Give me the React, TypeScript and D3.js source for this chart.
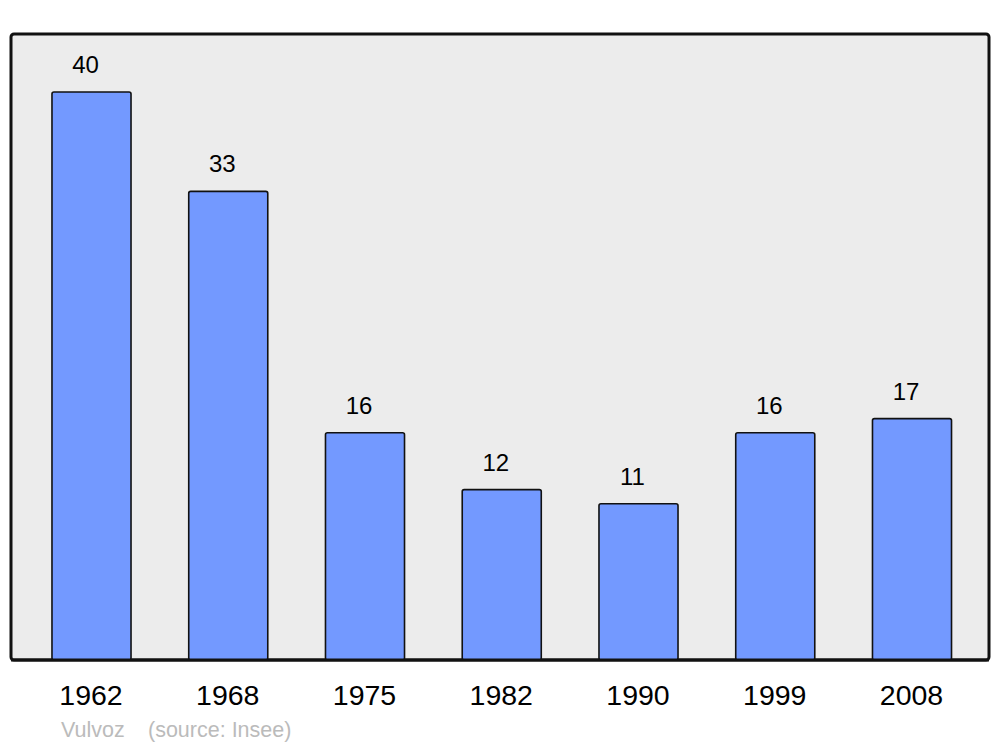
import React from "react";
import * as d3 from "d3";

const years = ["1962", "1968", "1975", "1982", "1990", "1999", "2008"];
const populations = [40, 33, 16, 12, 11, 16, 17];
const footerAuthor = "Vulvoz";
const footerSource = "(source: Insee)";

export default function App() {
  const W = 1000, H = 747;
  const panel = { x0: 11, x1: 989, y0: 34, y1: 660 };
  const step = 136.75;
  const x = d3
    .scaleBand<string>()
    .domain(years)
    .range([91.5 - step / 2, 91.5 - step / 2 + step * years.length])
    .paddingInner(0.422)
    .paddingOuter(0.211);
  const y = d3.scaleLinear().domain([0, 40]).range([panel.y1, 92]);
  const font = "'Liberation Sans', Arial, sans-serif";

  return (
    <svg width={W} height={H} style={{ position: "absolute", left: 0, top: 0, background: "#fff" }}>
      <rect
        x={panel.x0}
        y={panel.y0}
        width={panel.x1 - panel.x0}
        height={panel.y1 - panel.y0}
        rx={3}
        fill="#ececec"
        stroke="#111"
        strokeWidth={3}
      />
      {years.map((yr, i) => {
        const v = populations[i];
        const bx = x(yr)!;
        const bw = x.bandwidth();
        const top = y(v);
        return (
          <g key={yr}>
            <rect
              x={bx}
              y={top}
              width={bw}
              height={panel.y1 - top}
              rx={2}
              fill="#7399ff"
              stroke="#111"
              strokeWidth={1.6}
            />
            <text
              x={bx + bw / 2 - 6}
              y={top - 19}
              textAnchor="middle"
              fontFamily={font}
              fontSize={24}
              fill="#000"
            >
              {v}
            </text>
            <text
              x={bx + bw / 2 - 0.5}
              y={705}
              textAnchor="middle"
              fontFamily={font}
              fontSize={28.5}
              fill="#000"
            >
              {yr}
            </text>
          </g>
        );
      })}
      <line x1={panel.x0} x2={panel.x1} y1={panel.y1} y2={panel.y1} stroke="#111" strokeWidth={3} />
      <text x={61} y={737} fontFamily={font} fontSize={21.5} fill="#bbb">
        {footerAuthor}
      </text>
      <text x={148} y={737} fontFamily={font} fontSize={21.5} fill="#bbb">
        {footerSource}
      </text>
    </svg>
  );
}
